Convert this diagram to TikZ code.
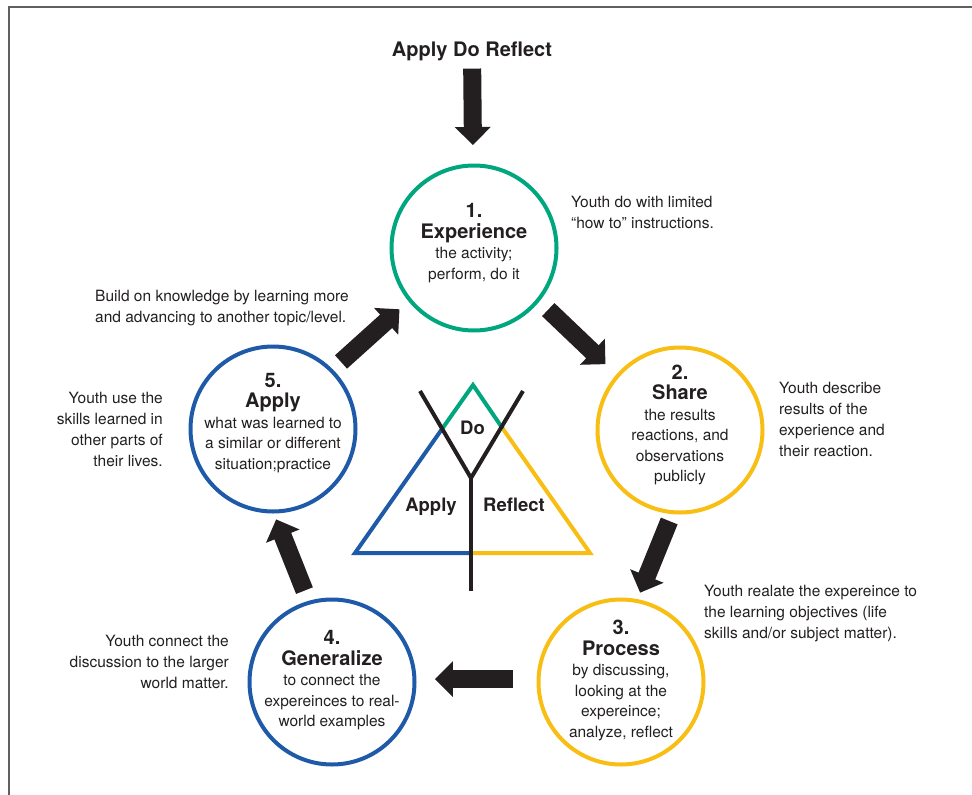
\documentclass[tikz,border=0pt]{standalone}
\usepackage{fontspec}
\setmainfont{TeX Gyre Heros}
\usetikzlibrary{
	arrows.meta
}
\definecolor{ink}{HTML}{231F20}
\definecolor{dogreen}{HTML}{00A67E}
\definecolor{reflectyellow}{HTML}{F8BE14}
\definecolor{applyblue}{HTML}{1E5AA8}
\newcommand{\stagehead}{\fontsize{20}{22}\selectfont\bfseries}
\newcommand{\stagebody}{\fontsize{15.5}{20.5}\selectfont}
\newcommand{\notefont}{\fontsize{15.5}{21}\selectfont}
\tikzset{
	stage/.style={
		circle,draw,line width=4pt,minimum size=165pt,
		inner sep=0pt,outer sep=0pt
	},
	stagetext/.style={
		inner sep=0pt,align=center,text=ink,font=\stagebody
	},
	note/.style={
		inner sep=0pt,font=\notefont,text=ink
	},
	bigarrow/.style={
		draw=ink,line width=18pt,-{Triangle[length=18pt,width=35pt]}
	},
	tri/.style={
		line width=4pt
	}
}
\begin{document}
\begin{tikzpicture}[x=1pt,y=-1pt]
	\useasboundingbox (0,0) rectangle (972,795);
	\draw[gray!75!black,line width=1.6pt] (972,7) -- (9,7) -- (9,795);

	\node[inner sep=0pt,anchor=base,text=ink,font=\fontsize{20}{22}\selectfont\bfseries] (title) at (472,56) {Apply Do Reflect};

	\node[stage,draw=dogreen,
		label={[stagetext,yshift=5pt]center:{\stagehead 1.\\\stagehead Experience\\the activity;\\perform, do it}}] (exp) at (474,248) {};
	\node[stage,draw=reflectyellow,
		label={[stagetext,yshift=5pt]center:{\stagehead 2.\\\stagehead Share\\the results\\reactions, and\\observations\\publicly}}] (share) at (680,430) {};
	\node[stage,draw=reflectyellow,
		label={[stagetext,yshift=1.5pt]center:{\stagehead 3.\\\stagehead Process\\by discussing,\\looking at the\\expereince;\\analyze, reflect}}] (proc) at (621,682) {};
	\node[stage,draw=applyblue,
		label={[stagetext,yshift=1.5pt]center:{\stagehead 4.\\\stagehead Generalize\\to connect the\\expereinces to real-\\world examples}}] (gen) at (332,682) {};
	\node[stage,draw=applyblue,
		label={[stagetext,yshift=6pt]center:{\stagehead 5.\\\stagehead Apply\\what was learned to\\a similar or different\\situation;practice}}] (apply) at (273,429) {};

	\node[note,anchor=north west,align=left]  (nexp)   at (571,196) {Youth do with limited\\“how to” instructions.};
	\node[note,anchor=north west,align=left]  (nshare) at (779,382) {Youth describe\\results of the\\experience and\\their reaction.};
	\node[note,anchor=north west,align=left]  (nproc)  at (704,585) {Youth realate the expereince to\\the learning objectives (life\\skills and/or subject matter).};
	\node[note,anchor=north east,align=right] (ngen)   at (229,635) {Youth connect the\\discussion to the larger\\world matter.};
	\node[note,anchor=north east,align=right] (napply) at (163,392) {Youth use the\\skills learned in\\other parts of\\their lives.};
	\node[note,anchor=north west,align=left]  (nnext)  at (95,290)  {Build on knowledge by learning more\\and advancing to another topic/level.};

	\draw[bigarrow,shorten <=8pt,shorten >=20.5pt]  (title)     -- (exp);
	\draw[bigarrow,shorten <=14pt,shorten >=17pt]   (exp.-39)   -- (share.139);
	\draw[bigarrow,shorten <=9.5pt,shorten >=9pt]   (share.-95) -- (proc.79);
	\draw[bigarrow,shorten <=25.5pt,shorten >=20.5pt] (proc.178) -- (gen.2);
	\draw[bigarrow,shorten <=13pt,shorten >=8.5pt]  (gen.106)   -- (apply.-90);
	\draw[bigarrow,shorten <=13pt,shorten >=14pt]   (apply.45)  -- (exp.219);

	\coordinate (top)   at (473,385);
	\coordinate (left)  at (355,553);
	\coordinate (right) at (590,553);
	\coordinate (foot)  at (471,553);
	\coordinate (cl)    at (442,429);
	\coordinate (cr)    at (503,429);
	\coordinate (armL)  at (420,391);
	\coordinate (armR)  at (523,391);
	\coordinate (fork)  at (471,478);
	\coordinate (stem)  at (471,591);
	\draw[tri,dogreen]       (cl) -- (top) -- (cr);
	\draw[tri,applyblue]     (cl) -- (left) -- (foot);
	\draw[tri,reflectyellow] (cr) -- (right) -- (foot);
	\draw[tri,ink] (armL) -- (fork) -- (armR);
	\draw[tri,ink] (fork) -- (stem);

	\node[anchor=base,inner sep=0pt,text=ink,font=\fontsize{18.5}{20}\selectfont\bfseries] (do)      at (472.5,434) {Do};
	\node[anchor=base,inner sep=0pt,text=ink,font=\fontsize{18.5}{20}\selectfont\bfseries] (lapply)  at (431,511.5) {Apply};
	\node[anchor=base,inner sep=0pt,text=ink,font=\fontsize{18.5}{20}\selectfont\bfseries] (reflect) at (514,511.5) {Reflect};
\end{tikzpicture}
\end{document}
